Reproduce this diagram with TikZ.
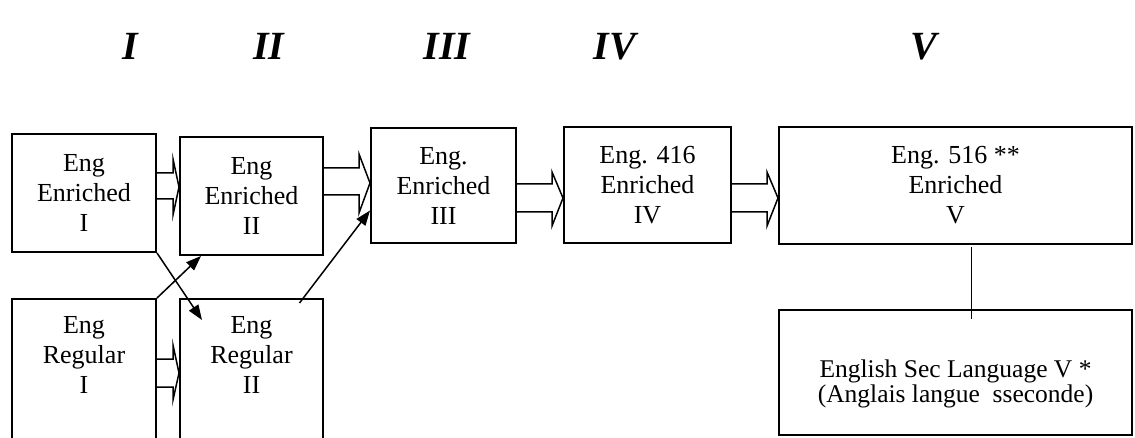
\documentclass[tikz,border=0pt]{standalone}
\usepackage{fontspec}
\setmainfont{Liberation Serif}
\usetikzlibrary{arrows.meta, positioning, calc}

\begin{document}
\begin{tikzpicture}[x=1pt, y=-1pt, >={Triangle[length=15pt, width=11pt]},
    box/.style={draw, line width=2pt, align=center, inner sep=0pt,
                font=\fontsize{26}{30}\selectfont},
    lowbox/.style={box, anchor=north, inner ysep=17pt},
    fat/.style={line width=1.5pt, line join=miter},
    link/.style={->, line width=1.5pt},
    level/.style={anchor=base, font=\fontsize{40}{44}\selectfont\bfseries\itshape}]

    \useasboundingbox (0,0) rectangle (1135,438);
    \clip (0,0) rectangle (1135,438);

    % Grade headings
    \node[level] (tI)   at (130,60) {I};
    \node[level] (tII)  at (269,60) {II};
    \node[level] (tIII) at (447,60) {III};
    \node[level] (tIV)  at (615,60) {IV};
    \node[level] (tV)   at (924,60) {V};

    % Enriched stream
    \node[box, minimum width=144, minimum height=118] (enrI)   at (84,193)    {Eng\\Enriched\\I};
    \node[box, minimum width=143, minimum height=118] (enrII)  at (251.5,196) {Eng\\Enriched\\II};
    \node[box, minimum width=145, minimum height=115] (enrIII) at (443.5,185.5) {Eng.\\Enriched\\III};
    \node[box, minimum width=167, minimum height=116] (enrIV)  at (647.5,185) {Eng. 416\\Enriched\\IV};
    \node[box, minimum width=353, minimum height=117] (enrV)   at (955.5,185.5) {Eng. 516 **\\Enriched\\V};

    % Regular stream and ESL
    \node[lowbox, minimum width=144] (regI)  at (84,298)    {Eng\\Regular\\I\rule[-60pt]{0pt}{0pt}};
    \node[lowbox, minimum width=143] (regII) at (251.5,298) {Eng\\Regular\\II\rule[-60pt]{0pt}{0pt}};
    \node[box, minimum width=353, minimum height=125, font=\fontsize{25.5}{25}\selectfont] (esl) at (955.5,372.5)
        {\rule{0pt}{41pt}English Sec Language V *\\(Anglais langue~ sseconde)};

    % Block arrows along the streams
    \draw[fat] (enrI.east |- 0,173) -| (173,159) -- (enrII.west |- 0,187) -- (173,215) |- (enrI.east |- 0,199);
    \draw[fat] (enrII.east |- 0,168) -| (359,154) -- (enrIII.west |- 0,183) -- (359,213) |- (enrII.east |- 0,195);
    \draw[fat] (enrIII.east |- 0,184) -| (552,172) -- (enrIV.west |- 0,198) -- (552,226) |- (enrIII.east |- 0,212);
    \draw[fat] (enrIV.east |- 0,184) -| (767,172) -- (enrV.west |- 0,198) -- (767,226) |- (enrIV.east |- 0,212);
    \draw[fat] (regI.east |- 0,359) -| (173,345) -- (regII.west |- 0,373) -- (173,400) |- (regI.east |- 0,387);

    % Crossing moves
    \draw[link] (enrI.south east) -- ($(regII.north west)+(23,22)$);
    \draw[link] (regI.north east) -- ($(enrII.south west)+(22,0)$);
    \draw[link] ($(regII.north)+(48,5)$) -- ($(enrIII.west)+(0,25)$);
    \draw[line width=1.5pt] ($(enrV.south)+(16,2)$) -- ($(esl.north)+(16,10)$);
\end{tikzpicture}
\end{document}
